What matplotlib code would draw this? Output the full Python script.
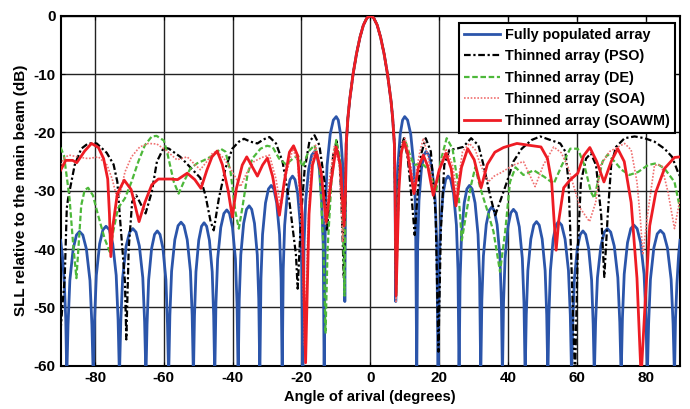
import numpy as np
import matplotlib
matplotlib.use("Agg")
import matplotlib.pyplot as plt

# main beam (same for every array)
main_deg = [-7.2, -7.0, -6.5, -6.0, -5.0, -4.0, -3.0, -2.0, -1.0, 0.0,
            1.0, 2.0, 3.0, 4.0, 5.0, 6.0, 6.5, 7.0, 7.2]
main_db = [-30, -22, -17.5, -14.5, -10, -6.5, -3.7, -1.6, -0.4, 0.0,
           -0.4, -1.6, -3.7, -6.5, -10, -14.5, -17.5, -22, -30]

# fully populated array, side lobes (one row per lobe, null to null)
full_deg = [-90, -89.4, -88.9, -88.5, -88.2,
            -87.83, -87.31, -86.35, -85.39, -84.5, -83.54, -82.5, -81.46, -80.9, -80.5,
            -80.13, -79.61, -78.65, -77.69, -76.8, -75.81, -74.85, -73.84, -73.29, -72.9,
            -72.51, -71.96, -70.95, -69.94, -69.0, -68.09, -67.1, -66.11, -65.58, -65.2,
            -64.87, -64.41, -63.55, -62.69, -61.9, -61.11, -60.25, -59.39, -58.93, -58.6,
            -58.24, -57.74, -56.8, -55.86, -55.0, -54.14, -53.2, -52.26, -51.76, -51.4,
            -51.09, -50.66, -49.85, -49.04, -48.3, -47.56, -46.75, -45.94, -45.51, -45.2,
            -44.85, -44.36, -43.45, -42.54, -41.7, -40.91, -40.05, -39.19, -38.73, -38.4,
            -38.08, -37.63, -36.8, -35.97, -35.2, -34.46, -33.65, -32.84, -32.41, -32.1,
            -31.77, -31.31, -30.45, -29.59, -28.8, -28.03, -27.2, -26.37, -25.92, -25.6,
            -25.3, -24.88, -24.1, -23.32, -22.6, -21.88, -21.1, -20.32, -19.9, -19.6,
            -19.26, -18.78, -17.9, -17.02, -16.2, -15.47, -14.8, -14.13, -13.68, -13.4,
            -13.05, -12.56, -11.65, -10.74, -9.9, -9.3, -8.65, -8.0, -7.65, -7.4,
            7.4, 7.66, 8.02, 8.7, 9.38, 10.0, 10.84, 11.75, 12.66, 13.15, 13.5,
            13.77, 14.15, 14.85, 15.55, 16.2, 17.04, 17.95, 18.86, 19.35, 19.7,
            19.99, 20.4, 21.15, 21.9, 22.6, 23.37, 24.2, 25.03, 25.48, 25.8,
            26.1, 26.52, 27.3, 28.08, 28.8, 29.59, 30.45, 31.31, 31.77, 32.1,
            32.42, 32.87, 33.7, 34.53, 35.3, 36.04, 36.85, 37.66, 38.09, 38.4,
            38.72, 39.17, 40.0, 40.83, 41.6, 42.42, 43.3, 44.18, 44.66, 45.0,
            45.33, 45.79, 46.65, 47.51, 48.3, 49.09, 49.95, 50.81, 51.27, 51.6,
            51.91, 52.34, 53.15, 53.96, 54.7, 55.61, 56.6, 57.59, 58.12, 58.5,
            58.83, 59.29, 60.15, 61.01, 61.8, 62.59, 63.45, 64.31, 64.77, 65.1,
            65.48, 66.01, 67.0, 67.99, 68.9, 69.86, 70.9, 71.94, 72.5, 72.9,
            73.27, 73.79, 74.75, 75.71, 76.6, 77.54, 78.55, 79.56, 80.11, 80.5,
            80.88, 81.41, 82.4, 83.39, 84.3, 85.28, 86.35, 87.42, 87.99, 88.4,
            88.7, 89.1, 89.6, 90]
full_db = [-38.5, -41.5, -46, -52, -62,
           -53, -45.4, -40, -37.6, -37, -37.6, -40, -45.4, -53, -62,
           -52.1, -44.5, -39.1, -36.7, -36.1, -36.7, -39.1, -44.5, -52.1, -62,
           -52.5, -44.9, -39.5, -37.1, -36.5, -37.1, -39.5, -44.9, -52.5, -62,
           -52.9, -45.3, -39.9, -37.5, -36.9, -37.5, -39.9, -45.3, -52.9, -62,
           -51.4, -43.8, -38.4, -36.0, -35.4, -36.0, -38.4, -43.8, -51.4, -62,
           -51.5, -43.9, -38.5, -36.1, -35.5, -36.1, -38.5, -43.9, -51.5, -62,
           -49.3, -41.7, -36.3, -33.9, -33.3, -33.9, -36.3, -41.7, -49.3, -62,
           -48.6, -41.0, -35.6, -33.2, -32.6, -33.2, -35.6, -41.0, -48.6, -62,
           -45.1, -37.5, -32.1, -29.7, -29.1, -29.7, -32.1, -37.5, -45.1, -62,
           -43.5, -35.9, -30.5, -28.1, -27.5, -28.1, -30.5, -35.9, -43.5, -62,
           -39.3, -31.7, -26.3, -23.9, -23.3, -23.9, -26.3, -31.7, -39.3, -62,
           -33.3, -25.7, -20.3, -17.9, -17.3, -17.9, -20.3, -25.7, -33.3, -49,
           -49, -33.3, -25.7, -20.3, -17.9, -17.3, -17.9, -20.3, -25.7, -33.3, -62,
           -39.3, -31.7, -26.3, -23.9, -23.3, -23.9, -26.3, -31.7, -39.3, -62,
           -43.5, -35.9, -30.5, -28.1, -27.5, -28.1, -30.5, -35.9, -43.5, -62,
           -45.1, -37.5, -32.1, -29.7, -29.1, -29.7, -32.1, -37.5, -45.1, -62,
           -48.8, -41.2, -35.8, -33.4, -32.8, -33.4, -35.8, -41.2, -48.8, -62,
           -49.2, -41.6, -36.2, -33.8, -33.2, -33.8, -36.2, -41.6, -49.2, -62,
           -51.3, -43.7, -38.3, -35.9, -35.3, -35.9, -38.3, -43.7, -51.3, -62,
           -51.3, -43.7, -38.3, -35.9, -35.3, -35.9, -38.3, -43.7, -51.3, -62,
           -52.9, -45.3, -39.9, -37.5, -36.9, -37.5, -39.9, -45.3, -52.9, -62,
           -52.5, -44.9, -39.5, -37.1, -36.5, -37.1, -39.5, -44.9, -52.5, -62,
           -51.9, -44.3, -38.9, -36.5, -35.9, -36.5, -38.9, -44.3, -51.9, -62,
           -52.8, -45.2, -39.8, -37.4, -36.8, -37.4, -39.8, -45.2, -52.8, -62,
           -52, -46, -41, -38.5]

# thinned array (PSO)
pso_deg = [-90, -89.5, -88.8, -88.2, -87.8, -85.9, -84, -82, -79.5, -76.6, -74.6,
           -73.5, -72.8, -71.3, -70.9, -70.2, -69.2, -68, -66.5, -65.3, -63.5, -62,
           -60, -58.5, -55.2, -52.3, -49.4, -47.9, -46.4, -45.5, -44, -42.1, -40.1,
           -38.2, -36.7, -34.8, -32.8, -31, -29.3, -27.4, -25.5, -23.5, -21.6, -21.1,
           -20.1, -19.1, -17.7, -16.2, -14.8, -13.3, -12.6, -11.8, -10.8, -9.8, -8.8,
           -8.2, -7.7,
           7.5, 8.3, 9.0, 9.8, 10.9, 12.2, 12.9, 13.7, 14.7, 16.1, 17.6, 19.0, 19.8,
           20.5, 21.5, 23, 25, 27, 29.3, 31.4, 32.9, 34.8, 36.3, 37.7, 39.7, 41.6,
           44, 46.9, 49.4, 52.3, 55.2, 56.7, 57.6, 58.3, 59.5, 60.3, 61.2, 62.7, 64.1,
           65.6, 67.1, 68.0, 69.0, 70.0, 71.4, 73.9, 76.8, 79.7, 82.6, 85.5, 87.7,
           89.4, 90]
pso_db = [-54, -50, -45, -33, -31.3, -25.6, -22.8, -21.9, -21.9, -23.5, -25.5,
          -28.5, -34.2, -45.6, -55.5, -39.9, -31.9, -30.8, -32.5, -33.9, -30.2, -25,
          -22.6, -22.8, -24.2, -26, -27.8, -30.8, -35.3, -36.8, -31.3, -26.2, -22.8,
          -21.6, -21.1, -21.6, -21.9, -21.2, -20.8, -21.9, -25, -31.9, -41, -46.8,
          -34.2, -26.5, -21.6, -20.5, -22.2, -28.5, -37, -31, -24, -21.5, -26,
          -35, -45,
          -45, -28, -22.5, -21.0, -24.5, -32.5, -37.6, -31, -23.9, -21.0, -23.3, -34.2, -57.6,
          -37, -25.6, -23, -22.8, -22.5, -21.0, -22.2, -25.6, -30.8, -34.2, -31.9, -28.5, -25,
          -22.8, -21.3, -20.7, -21.3, -21.9, -23.3, -28.5, -39.9, -62, -40, -28.5, -24.5, -23.6,
          -25.6, -34.2, -44.8, -34.2, -25.6, -22.5, -21.0, -20.7, -21.0, -21.6, -22.8, -24.2,
          -26.8, -27.5]

# thinned array (DE)
de_deg = [-90, -89, -87.4, -86.4, -85.4, -84.7, -84, -83, -82, -80.6, -79.1, -77.2,
          -75.7, -74.7, -73.3, -71.3, -69.4, -67.4, -65.5, -63.5, -62.1, -60, -59,
          -57.1, -55.7, -54.2, -52.3, -50.3, -48.4, -45.5, -43.5, -42.1, -40.6, -39.2,
          -38.2, -37.2, -35.7, -34.3, -31.9, -30, -28.4, -26.5, -24.5, -22.5, -21,
          -19.6, -18, -16.2, -14.8, -13.6, -13.0, -12.4, -11.3, -9.9, -8.8, -8.0, -7.5,
          7.5, 8.3, 9.2, 10.1, 11.3, 12.7, 14.2, 15.5, 17.1, 19.1, 20.5, 22.2, 23.9,
          25.4, 26.6, 27.8, 29.3, 30.5, 32, 33.8, 35.8, 37.7, 39.2, 40.6, 42.2, 44.5,
          47.5, 50.5, 53.3, 55.7, 58.1, 60.3, 62.2, 64.1, 65.1, 66.1, 67.5, 69, 71,
          73, 75.3, 77.8, 80.7, 83.1, 85.5, 88.4, 90]
de_db = [-22.6, -24, -31.3, -38.8, -45.0, -38.8, -32.5, -29.9, -29.5, -30.8, -34.2, -38.2,
         -40.5, -37, -33, -31.3, -28.5, -25, -22.2, -20.7, -20.6, -21.4, -23.5,
         -28.5, -30.5, -28.5, -26.2, -25.3, -24.8, -23.9, -22.8, -23.3, -26.8, -33.6,
         -36.5, -33, -27.3, -24.5, -22.8, -22.3, -22.5, -24.5, -25.5, -24.5, -24,
         -25.9, -23.3, -22.2, -25.6, -39.9, -54.5, -39.9, -28.5, -21.3, -24.5, -34, -48,
         -48, -28, -22.5, -21.3, -23.5, -25.6, -25.4, -25.6, -26.5, -30.2, -24.8, -21.0, -22.8,
         -28.5, -38.5, -34.2, -29.0, -26, -29.6, -33.0, -37.0, -43.9, -37, -28.5, -26, -27.3,
         -26.5, -27.6, -28.8, -25.6, -22.8, -22.8, -25.6, -30.2, -31.3, -28.5, -25, -23.8, -25,
         -26.4, -27.3, -26.8, -25.6, -25.3, -26.2, -28.5, -33]

# thinned array (SOA)
soa_deg = [-90, -88.8, -87.5, -85, -82, -79, -76.5, -75, -73.5, -72.5, -71.3, -69.4,
           -67, -64.5, -62, -59.1, -56.2, -53.2, -51, -49.4, -47.5, -45.8, -44.5,
           -42.5, -40.6, -37.7, -35.8, -33.8, -31.5, -29.3, -27.4, -26, -24.5, -22.5,
           -21.1, -19.8, -19.1, -18.2, -17.2, -15.9, -14.3, -13.0, -12.0, -10.4, -9,
           -8.0,
           7.5, 8.5, 9.3, 10.1, 11.3, 12.7, 14.2, 15.4, 16.9, 18.6, 20.0, 22.0, 23.9,
           25.1, 26.8, 28.8, 30.5, 32, 34.3, 36, 38, 41.6, 44.5, 47.9, 50.3, 53.3,
           55.5, 57.5, 59, 61, 63.7, 65.5, 67, 69.5, 73.9, 75.8, 77.5, 78.5, 79.2,
           80.6, 82.6, 84.6, 86.5, 88.4, 89.5, 90]
soa_db = [-25.5, -24.3, -23.9, -24.2, -24.5, -24.2, -25.6, -28, -31.5, -30, -26.8, -24.2,
          -22.5, -21.9, -22, -23.2, -24.7, -24.2, -25.5, -26.4, -25, -23.5, -23.3,
          -24.5, -26.2, -29.3, -26.8, -25, -24.3, -23.9, -28, -33.0, -27.3, -22.8,
          -25, -38, -56.5, -38, -25.6, -22.2, -26.2, -35.9, -28.5, -22.2, -25.6,
          -38.8,
          -49, -25, -22, -21.0, -23.9, -29.3, -23.9, -21.0, -24.5, -30.5, -26.2, -22.8, -25.6,
          -30.2, -23.3, -21.9, -23, -25.5, -28.5, -27.5, -26.9, -25.6, -25, -29.3, -25.6, -22.5,
          -23.5, -26, -29, -33, -35.3, -32, -25.6, -23.3, -21.9, -23.0, -28.5, -35, -41.0,
          -34, -25.6, -25.6, -30.2, -36.5, -33, -31.5]

# thinned array (SOAWM)
soawm_deg = [-90, -88.5, -86.5, -85.3, -83, -81, -79, -77.5, -76.3, -75.8, -75.4, -74.8,
             -73.5, -71.5, -69.5, -67.2, -65.5, -63.5, -61.6, -58, -56, -53.2, -51,
             -49.2, -47.5, -46, -44.5, -43, -41.3, -40.1, -38.9, -37.2, -35.9, -34.3,
             -32.8, -31.3, -29.9, -28.4, -26.4, -25, -23.5, -22.3, -21.1, -19.8, -18.8,
             -17.8, -16.8, -15.7, -14.3, -12.8, -11.4, -9.9, -8.7, -7.6,
             7.5, 8.3, 9.0, 9.8, 10.8, 12.7, 14.0, 15.4, 16.7, 18.3, 20, 22, 23.5, 24.9,
             26.5, 28.3, 30.2, 32.2, 34, 36.2, 38.7, 42.6, 46, 49.6, 51.5, 52.7, 53.4,
             54.0, 54.8, 56.2, 58, 60.3, 62, 63.8, 65.8, 67.9, 70, 71.9, 73.8, 75.8,
             77.5, 78.7, 79.8, 81.2, 83, 85.5, 88.4, 90]
soawm_db = [-26.5, -24.8, -24.8, -25.2, -23.2, -21.9, -22.6, -24.5, -28, -34, -41.3, -36,
            -30.5, -28.2, -29.8, -35.3, -32, -29, -28, -28, -28.1, -27.0, -28.1,
            -29.6, -26.5, -24.2, -23.2, -25.5, -30, -34.5, -29.6, -25.6, -24.2, -25.9,
            -27.5, -25.6, -24.4, -27.5, -34.2, -28.5, -23.4, -22.3, -24, -34, -59.5,
            -34, -25.6, -23.4, -26.8, -35.3, -28.5, -22.5, -25.6, -36,
            -48, -30, -23.5, -21.6, -23.5, -30.5, -26, -23.9, -25.8, -30.8, -26.5, -23.6, -26.2, -32.6,
            -26, -22.8, -24.7, -29.5, -25.5, -23.4, -22.6, -21.9, -22.2, -22.5, -24.5, -28.5, -35,
            -40.2, -35, -29.5, -28.2, -27, -24, -22.6, -25, -28.5, -25, -22.8, -25, -32,
            -45, -62, -50, -36, -30.2, -26.2, -24.3, -24.2]

labels = ["Fully populated array", "Thinned array (PSO)", "Thinned array (DE)",
          "Thinned array (SOA)", "Thinned array (SOAWM)"]


def with_main(deg, db):
    x = np.array(list(deg) + main_deg)
    y = np.array(list(db) + main_db)
    order = np.argsort(x, kind="stable")
    return x[order], y[order]


plt.rcParams["font.family"] = ["Liberation Sans", "DejaVu Sans"]
plt.rcParams["font.weight"] = "bold"
plt.rcParams["axes.unicode_minus"] = False

fig = plt.figure(figsize=(6.9, 4.09), dpi=100)
ax = fig.add_axes([0.0878, 0.1059, 0.8977, 0.8557])

ax.grid(True, color="#222222", linewidth=1.0, zorder=0)

x, y = with_main(full_deg, full_db)
ax.plot(x, y, color="#2B55AA", linewidth=2.0, label=labels[0], zorder=3)
x, y = with_main(pso_deg, pso_db)
ax.plot(x, y, color="black", linewidth=1.6, linestyle=(0, (3, 1.2, 1, 1.2)),
        label=labels[1], zorder=4)
x, y = with_main(de_deg, de_db)
ax.plot(x, y, color="#4DB83A", linewidth=1.6, linestyle=(0, (2.5, 1.2)),
        label=labels[2], zorder=4)
x, y = with_main(soa_deg, soa_db)
ax.plot(x, y, color="#F07070", linewidth=1.2, linestyle=(0, (1, 1)),
        label=labels[3], zorder=4)
x, y = with_main(soawm_deg, soawm_db)
ax.plot(x, y, color="#EE1C24", linewidth=2.0, label=labels[4], zorder=5)

ax.set_xlim(-90, 90)
ax.set_ylim(-60, 0)
ax.set_xticks(np.arange(-80, 81, 20))
ax.set_yticks(np.arange(-60, 1, 10))
ax.tick_params(direction="in", length=3, top=True, right=True, labelsize=11)
for lab in ax.get_xticklabels() + ax.get_yticklabels():
    lab.set_fontweight("bold")
for s in ax.spines.values():
    s.set_linewidth(1.5)

ax.set_xlabel("Angle of arival (degrees)", fontsize=10.5, fontweight="bold", labelpad=4)
ax.set_ylabel("SLL relative to the main beam (dB)", fontsize=11, fontweight="bold", labelpad=4)

leg = ax.legend(loc="upper right", bbox_to_anchor=(0.992, 0.98), fontsize=10.4,
                frameon=True, fancybox=False, framealpha=1, edgecolor="black",
                handlelength=2.5, handletextpad=0.35, labelspacing=0.52,
                borderpad=0.35, borderaxespad=0)
leg.get_frame().set_linewidth(1.5)
for t in leg.get_texts():
    t.set_fontweight("bold")

fig.savefig("out.png", dpi=100)
